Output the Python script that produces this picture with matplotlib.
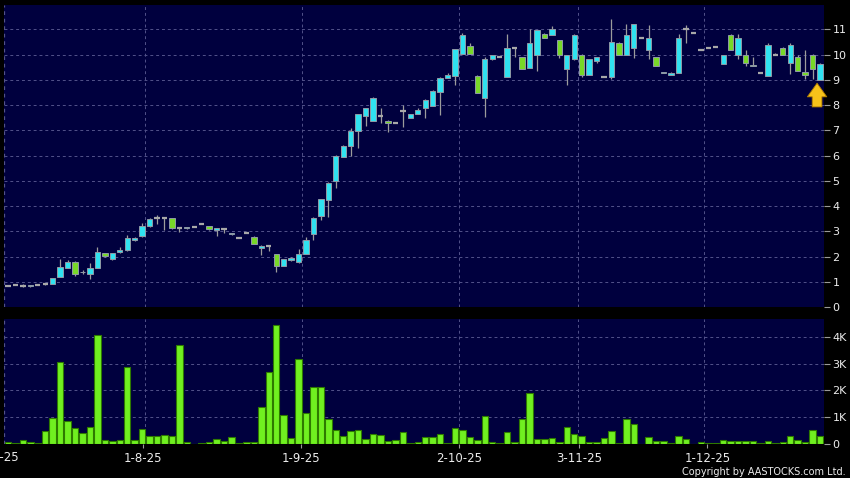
import matplotlib
matplotlib.use("Agg")
import matplotlib.pyplot as plt
import numpy as np

# ---------------- data ----------------
opens = [0.85, 0.87, 0.84, 0.82, 0.88, 0.90, 0.93, 1.18, 1.54, 1.78,
         1.37, 1.29, 1.54, 2.13, 1.89, 2.17, 2.24, 2.64, 2.80, 3.20,
         3.51, 3.51, 3.51, 3.13, 3.12, 3.18, 3.28, 3.21, 3.05, 3.10,
         2.88, 2.75, 2.92, 2.79, 2.34, 2.43, 2.11, 1.63, 1.88, 1.78,
         2.10, 2.89, 3.61, 4.24, 4.99, 5.96, 6.40, 6.99, 7.57, 7.39,
         7.59, 7.39, 7.28, 7.77, 7.50, 7.65, 7.89, 7.98, 8.54, 9.09,
         9.17, 10.03, 10.36, 9.17, 8.30, 9.81, 9.89, 9.13, 10.27, 9.89,
         9.49, 10.00, 10.84, 10.80, 10.60, 9.42, 9.81, 10.00, 9.21, 9.75,
         9.12, 9.12, 10.48, 10.00, 10.28, 10.68, 10.17, 9.89, 9.29, 9.21,
         9.29, 11.00, 10.88, 10.20, 10.28, 10.32, 9.65, 10.80, 10.00, 10.00,
         9.60, 9.29, 9.16, 10.00, 10.28, 9.69, 9.89, 9.33, 10.00, 9.00]
highs = [0.86, 0.87, 0.90, 0.87, 0.88, 0.95, 1.15, 1.92, 1.86, 1.84,
         1.45, 1.74, 2.38, 2.14, 2.14, 2.36, 2.86, 2.79, 3.32, 3.53,
         3.64, 3.52, 3.52, 3.18, 3.17, 3.18, 3.28, 3.22, 3.15, 3.11,
         2.93, 2.75, 2.97, 2.80, 2.44, 2.44, 2.12, 1.92, 1.97, 2.31,
         2.76, 3.56, 4.30, 4.95, 6.02, 6.42, 7.10, 7.65, 7.88, 8.31,
         7.88, 7.40, 7.33, 8.00, 7.66, 7.90, 8.23, 8.62, 9.10, 9.29,
         10.22, 10.87, 10.48, 9.18, 9.90, 9.98, 9.89, 10.81, 10.28, 9.90,
         11.00, 10.97, 10.85, 11.12, 10.60, 9.98, 10.82, 10.01, 9.82, 9.90,
         9.12, 11.41, 10.49, 11.20, 11.21, 10.68, 11.17, 9.90, 9.33, 9.30,
         10.84, 11.17, 10.88, 10.20, 10.28, 10.32, 10.00, 10.81, 10.84, 10.17,
         9.89, 9.29, 10.48, 10.05, 10.29, 10.48, 10.00, 10.20, 10.01, 9.66]
lows = [0.84, 0.87, 0.80, 0.81, 0.88, 0.89, 0.92, 1.18, 1.54, 1.24,
        1.32, 1.11, 1.54, 1.97, 1.88, 2.16, 2.22, 2.63, 2.79, 3.19,
        3.28, 3.07, 3.11, 2.99, 3.11, 3.18, 3.28, 3.07, 2.81, 2.94,
        2.85, 2.75, 2.92, 2.50, 2.06, 2.23, 1.38, 1.62, 1.82, 1.75,
        2.10, 2.65, 3.43, 3.58, 4.72, 5.93, 6.00, 6.30, 7.16, 7.36,
        7.30, 6.94, 7.28, 7.14, 7.49, 7.64, 7.50, 7.95, 7.60, 9.08,
        8.81, 10.02, 10.02, 8.49, 7.53, 9.80, 9.89, 9.12, 9.90, 9.44,
        9.48, 9.37, 10.67, 10.79, 9.85, 8.81, 9.80, 9.12, 9.20, 9.68,
        9.12, 9.05, 9.99, 9.99, 9.85, 10.68, 9.81, 9.56, 9.28, 9.20,
        9.28, 10.48, 10.88, 10.20, 10.28, 10.32, 9.64, 10.19, 9.81, 9.57,
        9.55, 9.29, 9.15, 10.00, 9.99, 9.25, 9.36, 9.05, 9.05, 8.99]
closes = [0.85, 0.87, 0.84, 0.86, 0.88, 0.90, 1.14, 1.58, 1.78, 1.29,
          1.40, 1.54, 2.17, 2.03, 2.13, 2.26, 2.74, 2.74, 3.20, 3.47,
          3.51, 3.51, 3.12, 3.13, 3.16, 3.18, 3.28, 3.08, 3.14, 3.10,
          2.92, 2.75, 2.92, 2.51, 2.43, 2.43, 1.62, 1.91, 1.93, 2.11,
          2.64, 3.54, 4.27, 4.90, 6.00, 6.40, 6.99, 7.63, 7.87, 8.30,
          7.59, 7.30, 7.28, 7.77, 7.65, 7.80, 8.22, 8.58, 9.09, 9.21,
          10.21, 10.80, 10.03, 8.50, 9.82, 9.97, 9.89, 10.25, 10.27, 9.45,
          10.48, 10.96, 10.68, 11.00, 10.00, 9.97, 10.80, 9.21, 9.81, 9.89,
          9.12, 10.52, 10.00, 10.80, 11.20, 10.68, 10.68, 9.57, 9.33, 9.29,
          10.68, 11.00, 10.88, 10.20, 10.28, 10.32, 10.00, 10.20, 10.68, 9.69,
          9.56, 9.29, 10.40, 10.00, 10.00, 10.40, 9.37, 9.21, 9.45, 9.65]
volumes_k = [0.06, 0.01, 0.13, 0.04, 0.01, 0.48, 0.97, 3.08, 0.83, 0.57,
             0.39, 0.62, 4.10, 0.14, 0.09, 0.15, 2.87, 0.15, 0.53, 0.30,
             0.30, 0.33, 0.29, 3.71, 0.04, 0.00, 0.01, 0.06, 0.16, 0.10,
             0.25, 0.01, 0.04, 0.05, 1.37, 2.70, 4.47, 1.09, 0.20, 3.17,
             1.16, 2.13, 2.11, 0.94, 0.49, 0.30, 0.48, 0.49, 0.16, 0.35,
             0.31, 0.09, 0.14, 0.45, 0.01, 0.06, 0.25, 0.23, 0.35, 0.01,
             0.57, 0.52, 0.25, 0.14, 1.04, 0.04, 0.01, 0.42, 0.06, 0.93,
             1.90, 0.18, 0.16, 0.19, 0.05, 0.64, 0.35, 0.29, 0.05, 0.06,
             0.21, 0.47, 0.03, 0.92, 0.73, 0.00, 0.24, 0.08, 0.09, 0.01,
             0.28, 0.16, 0.00, 0.05, 0.01, 0.01, 0.13, 0.08, 0.09, 0.11,
             0.11, 0.01, 0.10, 0.01, 0.04, 0.28, 0.14, 0.05, 0.52, 0.28]
date_labels = ["1-8-25", "1-9-25", "2-10-25", "3-11-25", "1-12-25"]
date_tick_pos = [18.16, 39.37, 60.54, 76.68, 93.87]
date_grid_pos = [18.43, 39.5, 60.5, 76.55, 93.46]
first_label = "2-7-25"
price_ticks = list(range(0, 12))
vol_ticks = [0, 1, 2, 3, 4]
vol_tick_labels = ["0", "1K", "2K", "3K", "4K"]

# ---------------- style ----------------
BG = "#00003e"
GRID = "#52528a"
UP = "#30e2f0"
DOWN = "#78d828"
EDGE = "#8f9aa6"
WICK = "#9c9c9c"
VOL = "#70f020"
VOL_EDGE = "#2e7a00"
TXT = "#ececec"

W, H = 850, 478
fig = plt.figure(figsize=(W / 100, H / 100), dpi=100, facecolor="black")

ax = fig.add_axes([4 / W, 1 - 307 / H, 820 / W, 302 / H])
axv = fig.add_axes([4 / W, 1 - 443.5 / H, 820 / W, 124.5 / H], sharex=ax)

x = np.arange(len(opens))
xmin, xmax = -0.537, 109.53

for a in (ax, axv):
    a.set_facecolor(BG)
    for s in a.spines.values():
        s.set_visible(False)
    for g in date_grid_pos:
        a.axvline(g, color=GRID, lw=0.7, ls=(0, (3, 3)), zorder=0.5)
    a.axvline(xmin + 0.05, color=GRID, lw=0.9, ls=(0, (3, 3)), zorder=0.5)
    a.yaxis.tick_right()
    a.tick_params(axis="y", colors="#9a9a9a", labelcolor=TXT, labelsize=8, length=4, width=0.8, pad=2)
    a.tick_params(axis="x", colors="#9a9a9a", labelcolor=TXT, labelsize=8.5, length=3, width=0.8, pad=3)
    a.set_xlim(xmin, xmax)

# price panel
ax.set_ylim(0, 11.97)
ax.set_yticks(price_ticks)
ax.set_yticklabels([str(t) for t in price_ticks])
for t in price_ticks:
    ax.axhline(t, color=GRID, lw=0.7, ls=(0, (3, 3)), zorder=0.5)
ax.tick_params(axis="x", bottom=False, labelbottom=False)

o = np.array(opens); c = np.array(closes); h = np.array(highs); l = np.array(lows)
ax.vlines(x, l, h, color=WICK, lw=0.9, zorder=2)
body_w = 0.72
diff = c - o
doji = np.abs(diff) < 0.015
colors = [UP if d > 0 else DOWN for d in diff]
bottoms = np.minimum(o, c)
heights = np.maximum(np.abs(diff), 0.035)
ax.bar(x[~doji], heights[~doji], bottom=bottoms[~doji], width=body_w,
       color=[col for col, dj in zip(colors, doji) if not dj],
       edgecolor=EDGE, linewidth=0.7, zorder=3)
ax.hlines(c[doji], x[doji] - body_w / 2, x[doji] + body_w / 2, color="#a8a8a8", lw=1.6, zorder=3)

# arrow marker under the last candle
ax.annotate("", xy=(108.6, 8.87), xytext=(108.6, 7.93),
            arrowprops=dict(arrowstyle="simple,head_length=0.7,head_width=1.0,tail_width=0.5",
                            fc="#f6c21a", ec="#b07c00", lw=0.6, mutation_scale=14,
                            shrinkA=0, shrinkB=0), zorder=5)

# volume panel
axv.set_ylim(0, 4.69)
axv.set_yticks(vol_ticks)
axv.set_yticklabels(vol_tick_labels)
for t in vol_ticks[1:]:
    axv.axhline(t, color=GRID, lw=0.7, ls=(0, (3, 3)), zorder=0.5)
axv.bar(x, volumes_k, width=0.86, color=VOL, edgecolor=VOL_EDGE, linewidth=0.8, zorder=3)
axv.set_xticks(date_tick_pos)
axv.set_xticklabels(date_labels)

# first date label is clipped by the left edge, as in the reference
fig.text(-0.5 / W, 1 - 457.7 / H, first_label, color=TXT, fontsize=8.5, ha="center", va="center")
fig.text(846 / W, 1 - 472 / H, "Copyright by AASTOCKS.com Ltd.", color=TXT, fontsize=7,
         ha="right", va="center")

fig.savefig("out.png", dpi=100, facecolor="black")
